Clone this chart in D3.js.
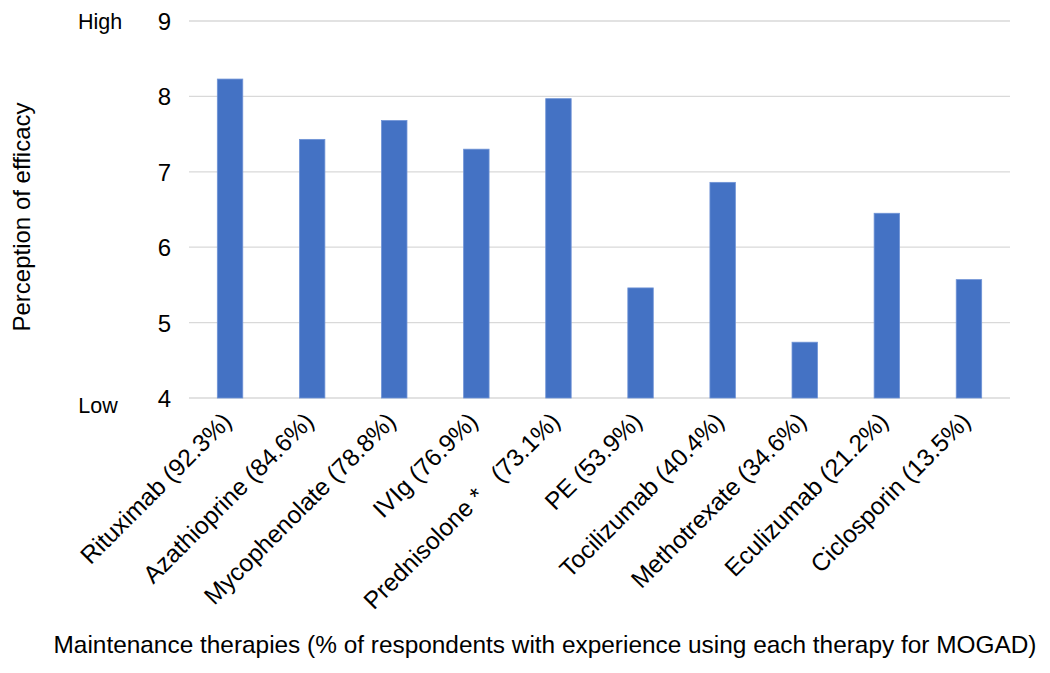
<!DOCTYPE html>
<html><head><meta charset="utf-8">
<script src="https://cdn.jsdelivr.net/npm/d3@7"></script>
<style>body{margin:0;background:#fff;} text{font-family:"Liberation Sans",Arial,sans-serif;fill:#000;white-space:pre;}</style>
</head><body><svg id="c" width="1050" height="673"></svg>
<script>
const categories = ["Rituximab (92.3%)","Azathioprine (84.6%)","Mycophenolate (78.8%)","IVIg (76.9%)","Prednisolone *   (73.1%)","PE (53.9%)","Tocilizumab (40.4%)","Methotrexate (34.6%)","Eculizumab (21.2%)","Ciclosporin (13.5%)"];
const values = [8.23,7.43,7.68,7.30,7.97,5.46,6.86,4.74,6.45,5.57];
const yTicks = [4,5,6,7,8,9];
const yTitle = "Perception of efficacy";
const xTitle = "Maintenance therapies (% of respondents with experience using each therapy for MOGAD)";
const endLabels = ["Low","High"];

const svg = d3.select("#c");
const x = d3.scaleBand().domain(categories).range([189,1010]).paddingInner(0.69).paddingOuter(0.345);
const y = d3.scaleLinear().domain([4,9]).range([398,21]);

svg.append("g").selectAll("line").data(yTicks).join("line")
  .attr("x1",189).attr("x2",1010).attr("y1",d=>y(d)).attr("y2",d=>y(d))
  .attr("stroke","#d9d9d9").attr("stroke-width",1.3);

svg.append("g").selectAll("rect").data(values).join("rect")
  .attr("x",(d,i)=>x(categories[i])).attr("width",x.bandwidth())
  .attr("y",d=>y(d)).attr("height",d=>y(4)-y(d))
  .attr("fill","#4472c4").attr("stroke","#6f93d6").attr("stroke-width",0.8);

const yAxis = svg.append("g").attr("transform","translate(171,0)")
  .call(d3.axisLeft(y).tickValues(yTicks).tickSize(0).tickPadding(0).tickFormat(d3.format("d")));
yAxis.select(".domain").remove();
yAxis.selectAll("text").attr("font-size",24).attr("dy","0.35em").style("font-family","Liberation Sans, Arial, sans-serif");

const xAxis = svg.append("g").attr("transform","translate(0,398)")
  .call(d3.axisBottom(x).tickSize(0).tickPadding(0));
xAxis.select(".domain").remove();
xAxis.selectAll("text").attr("font-size",24.5).attr("text-anchor","end")
  .attr("y",0).attr("dy",0)
  .attr("transform","translate(3,25) rotate(-45)")
  .style("font-family","Liberation Sans, Arial, sans-serif");

svg.append("text").attr("x",100).attr("y",29).attr("text-anchor","middle").attr("font-size",21.5).text(endLabels[1]);
svg.append("text").attr("x",98).attr("y",413).attr("text-anchor","middle").attr("font-size",21.5).text(endLabels[0]);

svg.append("text").attr("transform","translate(30,217) rotate(-90)").attr("text-anchor","middle").attr("font-size",24).text(yTitle);
svg.append("text").attr("x",545).attr("y",653).attr("text-anchor","middle").attr("font-size",24.4).text(xTitle);
</script></body></html>
